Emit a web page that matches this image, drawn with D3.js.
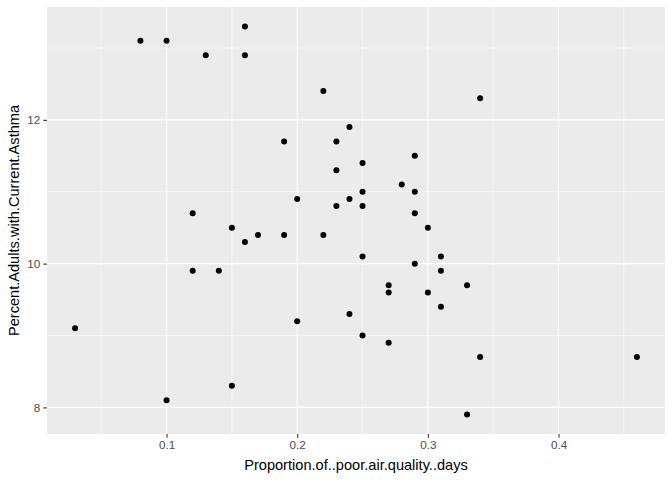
<!DOCTYPE html>
<html>
<head>
<meta charset="utf-8">
<script src="https://cdn.jsdelivr.net/npm/d3@7"></script>
<style>
html,body{margin:0;padding:0;background:#fff;}
text{font-family:"Liberation Sans",Arial,Helvetica,sans-serif;}
</style>
</head>
<body>
<svg id="chart" width="672" height="480"></svg>
<script>
const poorAirDays = [0.08,0.10,0.13,0.16,0.16,0.22,0.34,0.19,0.23,0.24,0.25,0.29,0.23,0.28,0.25,0.29,0.20,0.24,0.23,0.25,0.12,0.29,0.15,0.30,0.17,0.19,0.22,0.16,0.25,0.31,0.29,0.12,0.14,0.31,0.27,0.33,0.27,0.30,0.31,0.24,0.20,0.03,0.25,0.27,0.34,0.46,0.15,0.10,0.33];
const asthma = [13.1,13.1,12.9,13.3,12.9,12.4,12.3,11.7,11.7,11.9,11.4,11.5,11.3,11.1,11.0,11.0,10.9,10.9,10.8,10.8,10.7,10.7,10.5,10.5,10.4,10.4,10.4,10.3,10.1,10.1,10.0,9.9,9.9,9.9,9.7,9.7,9.6,9.6,9.4,9.3,9.2,9.1,9.0,8.9,8.7,8.7,8.3,8.1,7.9];
const xTicks = [0.1,0.2,0.3,0.4];
const xMinor = [0.05,0.15,0.25,0.35,0.45];
const yTicks = [8,10,12];
const yMinor = [9,11,13];
const xLabel = "Proportion.of..poor.air.quality..days";
const yLabel = "Percent.Adults.with.Current.Asthma";

const data = poorAirDays.map((x,i)=>({x, y: asthma[i]}));

const W = 672, H = 480;
const m = {left:47, right:7, top:7, bottom:46};
const pw = W - m.left - m.right, ph = H - m.top - m.bottom;

function expand(ext){ const d=(ext[1]-ext[0])*0.05; return [ext[0]-d, ext[1]+d]; }
const x = d3.scaleLinear().domain(expand(d3.extent(poorAirDays))).range([0,pw]);
const y = d3.scaleLinear().domain(expand(d3.extent(asthma))).range([ph,0]);

const svg = d3.select("#chart");
const g = svg.append("g").attr("transform",`translate(${m.left},${m.top})`);

g.append("rect").attr("width",pw).attr("height",ph).attr("fill","#EBEBEB");

g.selectAll(".xmin").data(xMinor).enter().append("line")
  .attr("x1",d=>x(d)).attr("x2",d=>x(d)).attr("y1",0).attr("y2",ph)
  .attr("stroke","#fff").attr("stroke-width",0.55);
g.selectAll(".ymin").data(yMinor).enter().append("line")
  .attr("y1",d=>y(d)).attr("y2",d=>y(d)).attr("x1",0).attr("x2",pw)
  .attr("stroke","#fff").attr("stroke-width",0.55);
g.selectAll(".xmaj").data(xTicks).enter().append("line")
  .attr("x1",d=>x(d)).attr("x2",d=>x(d)).attr("y1",0).attr("y2",ph)
  .attr("stroke","#fff").attr("stroke-width",1.1);
g.selectAll(".ymaj").data(yTicks).enter().append("line")
  .attr("y1",d=>y(d)).attr("y2",d=>y(d)).attr("x1",0).attr("x2",pw)
  .attr("stroke","#fff").attr("stroke-width",1.1);

// axes
const xAxis = d3.axisBottom(x).tickValues(xTicks).tickSize(3.7).tickPadding(3).tickFormat(d3.format(".1f"));
const yAxis = d3.axisLeft(y).tickValues(yTicks).tickSize(3.7).tickPadding(3).tickFormat(d3.format("d"));
const gx = g.append("g").attr("transform",`translate(0,${ph})`).call(xAxis);
const gy = g.append("g").call(yAxis);
[gx,gy].forEach(a=>{
  a.select(".domain").remove();
  a.selectAll(".tick line").attr("stroke","#333333").attr("stroke-width",1.1);
  a.selectAll(".tick text").attr("fill","#4D4D4D").style("font-size","11.7px")
   .style("font-family",'"Liberation Sans",Arial,Helvetica,sans-serif');
});

g.selectAll(".pt").data(data).enter().append("circle")
  .attr("cx",d=>x(d.x)).attr("cy",d=>y(d.y)).attr("r",3).attr("fill","#000");

svg.append("text").attr("x",m.left+pw/2).attr("y",470)
  .attr("text-anchor","middle").attr("fill","#000").style("font-size","14.6px").text(xLabel);
svg.append("text").attr("transform",`translate(19,${m.top+ph/2}) rotate(-90)`)
  .attr("text-anchor","middle").attr("fill","#000").style("font-size","14.6px").text(yLabel);
</script>
</body>
</html>
